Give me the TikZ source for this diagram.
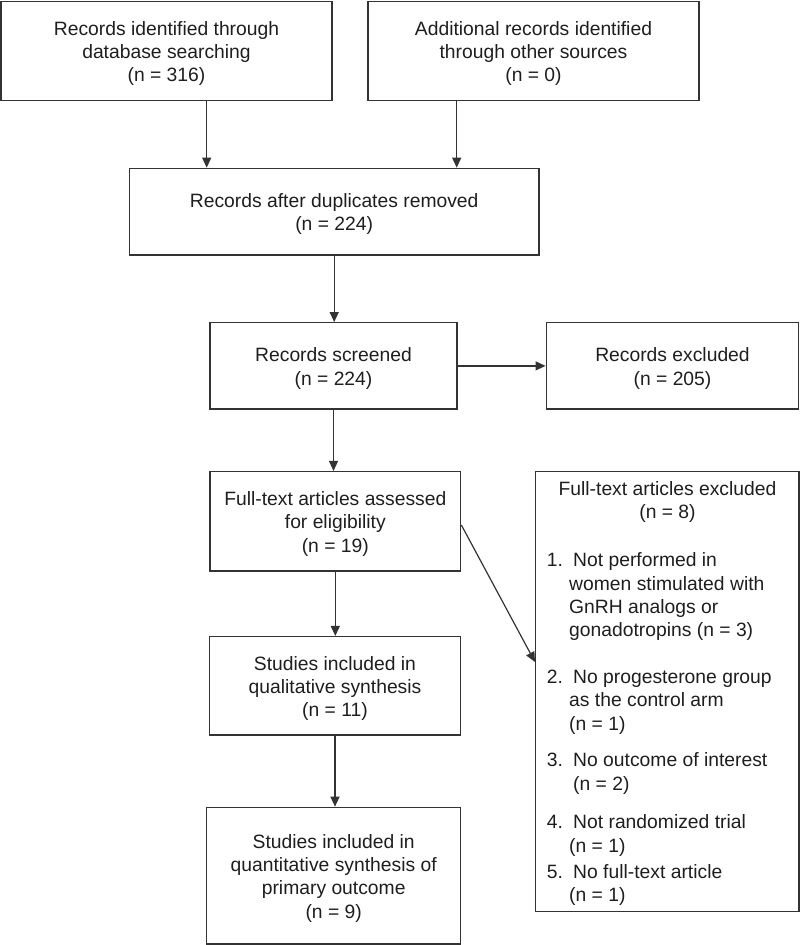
\documentclass[tikz,border=0pt]{standalone}
\usepackage{fontspec}
\setmainfont{Liberation Sans}
\usetikzlibrary{arrows.meta,calc}
\definecolor{ln}{HTML}{333333}
\definecolor{tx}{HTML}{1E1E1E}
\newcommand\tpstrut{\rule{0pt}{19pt}}
\begin{document}
\begin{tikzpicture}[x=1pt,y=-1pt,
  box/.style={draw=ln,line width=1.4pt,inner sep=0pt,align=center,text=tx,font=\fontsize{19.3}{23.3}\selectfont},
  arr/.style={draw=ln,line width=1.2pt,-{Triangle[length=10pt,width=9pt]}},
  li/.style={anchor=base west,inner sep=0pt,text=tx,font=\fontsize{19.3}{23.3}\selectfont}]
\useasboundingbox (0,0) rectangle (800,945);
% boxes
\node[box,minimum width=331pt,minimum height=99.5pt] (b1) at (166.5,51) {\tpstrut Records identified through\\database searching\\(n = 316)};
\node[box,minimum width=331pt,minimum height=99.5pt] (b2) at (533.5,51) {\tpstrut Additional records identified\\through other sources\\(n = 0)};
\node[box,minimum width=409.7pt,minimum height=86.7pt] (b3) at (334.2,211.7) {\tpstrut Records after duplicates removed\\(n = 224)};
\node[box,minimum width=247pt,minimum height=86.3pt] (b4) at (333.5,365.9) {\tpstrut Records screened\\(n = 224)};
\node[box,minimum width=252.5pt,minimum height=86.3pt] (b5) at (672.5,365.9) {\tpstrut Records excluded\\(n = 205)};
\node[box,minimum width=250.7pt,minimum height=99.3pt] (b6) at (335.3,521.3) {\tpstrut Full-text articles assessed\\for eligibility\\(n = 19)};
\node[box,minimum width=251.4pt,minimum height=98.3pt] (b7) at (335,685.8) {\tpstrut Studies included in\\qualitative synthesis\\(n = 11)};
\node[box,minimum width=254pt,minimum height=136.7pt] (b8) at (333.7,875.7) {\tpstrut Studies included in\\quantitative synthesis of\\primary outcome\\(n = 9)};
\node[box,minimum width=263.3pt,minimum height=440pt] (b9) at (667.35,691.7) {};
% list text
\node[li,anchor=base] (h1) at (667.5,495) {Full-text articles excluded};
\node[li,anchor=base] (h2) at (667.5,518.3) {(n = 8)};
\node[li] (l1) at (546.7,566.7) {\makebox[26.3pt][l]{1.}Not performed in};
\node[li] (l2) at (569,590) {women stimulated with};
\node[li] (l3) at (569,613.3) {GnRH analogs or};
\node[li] (l4) at (569,636.7) {gonadotropins (n = 3)};
\node[li] (l5) at (546.7,683.2) {\makebox[26.3pt][l]{2.}No progesterone group};
\node[li] (l6) at (569,706.6) {as the control arm};
\node[li] (l7) at (569,730) {(n = 1)};
\node[li] (l8) at (546.7,766.7) {\makebox[26.3pt][l]{3.}No outcome of interest};
\node[li] (l9) at (573,790) {(n = 2)};
\node[li] (l10) at (546.7,828.5) {\makebox[26.3pt][l]{4.}Not randomized trial};
\node[li] (l11) at (569,852) {(n = 1)};
\node[li] (l12) at (546.7,878) {\makebox[26.3pt][l]{5.}No full-text article};
\node[li] (l13) at (569,901.5) {(n = 1)};
% connectors
\draw[arr] ([xshift=40.2pt]b1.south) -- ([xshift=40.2pt]b1.south |- b3.north);
\draw[arr] ([xshift=-76.8pt]b2.south) -- ([xshift=-76.8pt]b2.south |- b3.north);
\draw[arr] (b3.south) -- (b3.south |- b4.north);
\draw[arr] (b4.east) -- (b4.east -| b5.west);
\draw[arr] (b4.south) -- (b4.south |- b6.north);
\draw[arr] (b6.south) -- (b6.south |- b7.north);
\draw[arr] (b7.south) -- (b7.south |- b8.north);
\draw[arr] ([yshift=-3.7pt]b6.east) -- ([yshift=29.7pt]b9.west);
\end{tikzpicture}
\end{document}
